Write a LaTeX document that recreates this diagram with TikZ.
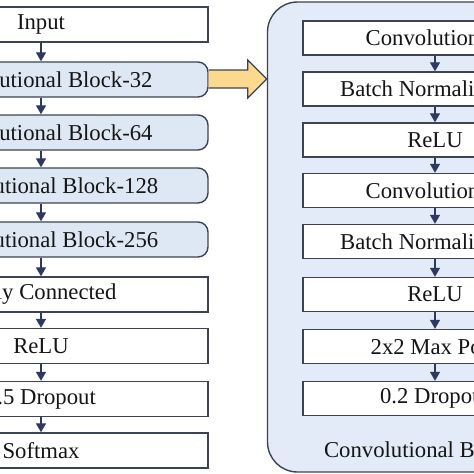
\documentclass[tikz,border=0pt]{standalone}
\usepackage{fontspec}
\setmainfont{Liberation Serif}
\usetikzlibrary{arrows.meta,calc}
\definecolor{edgec}{HTML}{3E4354}
\definecolor{arrc}{HTML}{2F3860}
\definecolor{bluef}{HTML}{DEE8F5}
\definecolor{contf}{HTML}{E2EBF7}
\definecolor{yelf}{HTML}{FBD98F}
\definecolor{txtc}{HTML}{151515}
\tikzset{
  lbox/.style={draw=edgec, line width=1.4pt, fill=white, minimum width=334pt, minimum height=35pt, inner sep=0pt, text=txtc, font=\fontsize{22.7}{27}\selectfont},
  lround/.style={lbox, fill=bluef, rounded corners=10pt},
  rbox/.style={draw=edgec, line width=1.4pt, fill=white, minimum width=264pt, minimum height=34pt, inner sep=0pt, text=txtc, font=\fontsize{22.7}{27}\selectfont},
  flow/.style={draw=arrc, line width=1.3pt, -{Triangle[width=10pt,length=9pt]}},
  cont/.style={draw=edgec, line width=1.4pt, fill=contf, rounded corners=30pt},
  bigarrow/.style={draw=edgec, line width=1.2pt, fill=yelf, line join=miter},
  lbl/.style={text=txtc, font=\fontsize{22.7}{27}\selectfont, inner sep=0pt}
}
\begin{document}
\begin{tikzpicture}[x=1pt,y=-1pt]
\useasboundingbox (0,0) rectangle (474,474);
\clip (0,0) rectangle (474,474);
% container
\draw[cont] (267.5,2) rectangle (640,472);
\node[lbl] (clabel) at (419,450) {Convolutional Block};
% left column
\node[lbox]   (in)   at (41,24.5)  {Input};
\node[lround] (b32)  at (41,79.5)  {\hspace*{3pt}Convolutional Block-32};
\node[lround] (b64)  at (41,132.5) {\hspace*{3pt}Convolutional Block-64};
\node[lround] (b128) at (41,185.5) {\hspace*{3pt}Convolutional Block-128};
\node[lround] (b256) at (41,239.5) {\hspace*{3pt}Convolutional Block-256};
\node[lbox]   (fc)   at (41,294.5) {Fully Connected};
\node[lbox]   (lrelu) at (41,346)  {ReLU};
\node[lbox]   (ldrop) at (41,399)  {0.5 Dropout};
\node[lbox]   (soft)  at (41,450.5) {Softmax};
\foreach \a/\b in {in/b32,b32/b64,b64/b128,b128/b256,b256/fc,fc/lrelu,lrelu/ldrop,ldrop/soft}
  \draw[flow] (\a.south) -- (\b.north);
% right column
\node[rbox] (c1) at (435,38)    {Convolution\hspace*{25pt}};
\node[rbox] (n1) at (435,89)    {Batch Normalization};
\node[rbox] (r1) at (435,140)   {ReLU};
\node[rbox] (c2) at (435,190.5) {Convolution\hspace*{25pt}};
\node[rbox] (n2) at (435,241.5) {Batch Normalization};
\node[rbox] (r2) at (435,294.5) {ReLU};
\node[rbox] (mp) at (435,346.5) {2x2 Max Pool};
\node[rbox] (rd) at (435,398.5) {0.2 Dropout};
\foreach \a/\b in {c1/n1,n1/r1,r1/c2,c2/n2,n2/r2,r2/mp,mp/rd}
  \draw[flow] (\a.south) -- (\b.north);
% yellow block arrow
\draw[bigarrow] ($(b32.east)+(0,-9.5)$) -- ++(39,0) -- ++(0,-10) -- ($(b32.east)+(58,-0.5)$)
  -- ($(b32.east)+(39,18.5)$) -- ++(0,-10) -- ($(b32.east)+(0,8.5)$);
\end{tikzpicture}
\end{document}
